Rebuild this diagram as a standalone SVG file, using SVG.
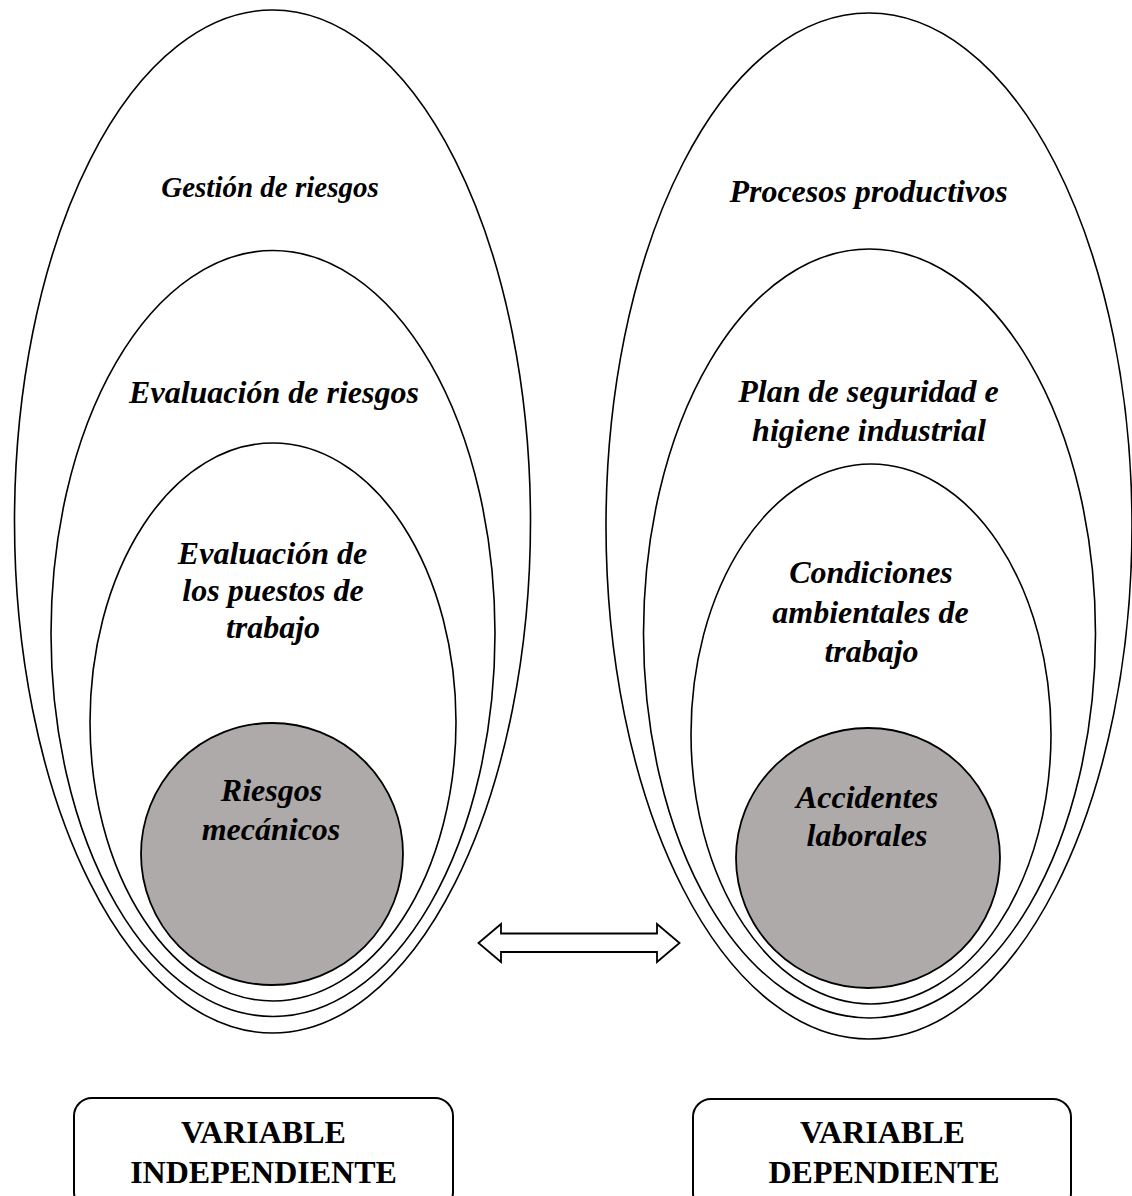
<svg xmlns="http://www.w3.org/2000/svg" width="1132" height="1196" viewBox="0 0 1132 1196">
<style>
.ring{fill:none;stroke:#000;stroke-width:1.6}
.core{fill:#aeaaaa;stroke:#000;stroke-width:1.8}
.lbl{font-family:"Liberation Serif","Times New Roman",serif;font-weight:bold;font-style:italic;font-size:32px;text-anchor:middle;fill:#000}
.box{fill:#fff;stroke:#000;stroke-width:2}
.btxt{font-family:"Liberation Serif","Times New Roman",serif;font-weight:bold;font-size:32px;text-anchor:middle;fill:#000}
.arrow{fill:#fff;stroke:#000;stroke-width:1.8;stroke-linejoin:miter}
</style>
<rect width="1132" height="1196" fill="#fff"/>
<g id="left-outer"><ellipse class="ring" cx="272.5" cy="521.5" rx="258" ry="511.5"/><text class="lbl" x="270" y="197" style="font-size:29px">Gestión de riesgos</text></g>
<g id="left-second"><ellipse class="ring" cx="273" cy="633.5" rx="222" ry="383"/><text class="lbl" x="274" y="403">Evaluación de riesgos</text></g>
<g id="left-third"><ellipse class="ring" cx="273" cy="722" rx="183" ry="279"/><text class="lbl" x="272.5" y="564">Evaluación de</text><text class="lbl" x="273" y="601">los puestos de</text><text class="lbl" x="273" y="637.5">trabajo</text></g>
<g id="left-core"><ellipse class="core" cx="272" cy="854" rx="131" ry="131"/><text class="lbl" x="271.5" y="800.5">Riesgos</text><text class="lbl" x="271" y="840">mecánicos</text></g>
<g id="right-outer"><ellipse class="ring" cx="869" cy="526" rx="263" ry="513"/><text class="lbl" x="868.5" y="202">Procesos productivos</text></g>
<g id="right-second"><ellipse class="ring" cx="869.5" cy="633.5" rx="226" ry="384.5"/><text class="lbl" x="868.5" y="402">Plan de seguridad e</text><text class="lbl" x="869" y="441">higiene industrial</text></g>
<g id="right-third"><ellipse class="ring" cx="871" cy="734" rx="180" ry="270"/><text class="lbl" x="871" y="583">Condiciones</text><text class="lbl" x="870.5" y="623">ambientales de</text><text class="lbl" x="871.5" y="662">trabajo</text></g>
<g id="right-core"><ellipse class="core" cx="868" cy="858" rx="132" ry="130"/><text class="lbl" x="867" y="807.5">Accidentes</text><text class="lbl" x="867" y="846">laborales</text></g>
<g id="connectors"><polygon class="arrow" points="478.5,943 501,924 501,933.5 657,933.5 657,924 679.5,943 657,962 657,952 501,952 501,962"/></g>
<g id="box-independiente"><rect class="box" x="74" y="1098" width="379" height="112" rx="18" ry="18"/><text class="btxt" x="263.5" y="1143">VARIABLE</text><text class="btxt" x="263.5" y="1183">INDEPENDIENTE</text></g>
<g id="box-dependiente"><rect class="box" x="693" y="1099" width="378" height="112" rx="18" ry="18"/><text class="btxt" x="882.5" y="1143">VARIABLE</text><text class="btxt" x="884" y="1183">DEPENDIENTE</text></g>
</svg>
